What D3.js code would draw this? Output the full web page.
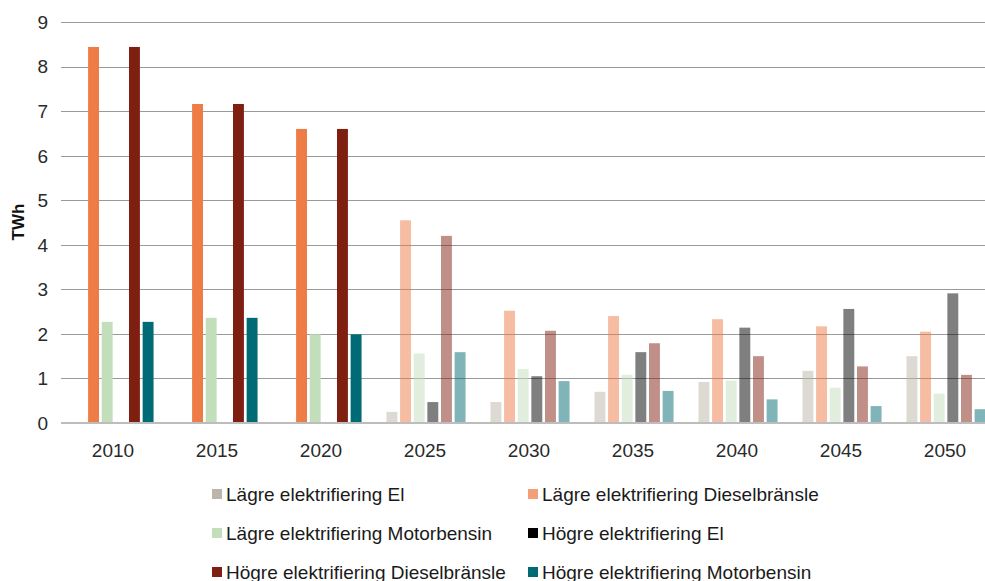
<!DOCTYPE html>
<html>
<head>
<meta charset="utf-8">
<script src="https://cdn.jsdelivr.net/npm/d3@7"></script>
<style>
  html, body { margin: 0; padding: 0; background: #fff; }
  svg { display: block; }
</style>
</head>
<body>
<svg id="chart" width="985" height="581"></svg>
<script>
const categories = ['2010', '2015', '2020', '2025', '2030', '2035', '2040', '2045', '2050'];
const seriesNames = [
  'Lägre elektrifiering El',
  'Lägre elektrifiering Dieselbränsle',
  'Lägre elektrifiering Motorbensin',
  'Högre elektrifiering El',
  'Högre elektrifiering Dieselbränsle',
  'Högre elektrifiering Motorbensin'
];
const lagreEl       = [0, 0, 0, 0.25, 0.47, 0.70, 0.92, 1.17, 1.50];
const lagreDiesel   = [8.44, 7.16, 6.60, 4.55, 2.52, 2.40, 2.33, 2.17, 2.05];
const lagreMotor    = [2.27, 2.36, 1.99, 1.56, 1.21, 1.08, 0.95, 0.79, 0.66];
const hogreEl       = [0, 0, 0, 0.47, 1.05, 1.59, 2.14, 2.56, 2.91];
const hogreDiesel   = [8.44, 7.16, 6.60, 4.20, 2.07, 1.79, 1.50, 1.27, 1.08];
const hogreMotor    = [2.27, 2.36, 1.99, 1.59, 0.94, 0.72, 0.53, 0.38, 0.31];
const yTicks = [0, 1, 2, 3, 4, 5, 6, 7, 8, 9];
const yLabel = 'TWh';

const seriesValues = [lagreEl, lagreDiesel, lagreMotor, hogreEl, hogreDiesel, hogreMotor];
const barColors = ['#BBB5A7', '#EE7C47', '#C3DEBB', '#000000', '#7F1F12', '#006B74'];
const legendColors = ['#BCB5A9', '#F39F77', '#C3DEBB', '#000000', '#7F1F12', '#006B74'];
const projectionStart = 2025;

const svg = d3.select('#chart');
const fontMain = '"Liberation Sans", Arial, Helvetica, sans-serif';

const x0 = d3.scaleBand().domain(categories).range([61, 997]).padding(0);
const x1 = d3.scaleBand().domain(d3.range(seriesNames.length))
  .range([2, 104]).paddingInner(0.2).paddingOuter(0.84);
const y = d3.scaleLinear().domain([0, 9]).range([423, 22]);

// gridlines
svg.append('g').selectAll('line')
  .data(yTicks.filter(t => t !== 0))
  .join('line')
  .attr('x1', 61).attr('x2', 985)
  .attr('y1', d => Math.round(y(d)) + 0.5).attr('y2', d => Math.round(y(d)) + 0.5)
  .attr('stroke', '#9a9a9a').attr('stroke-width', 1.2);

// y tick labels
svg.append('g').selectAll('text')
  .data(yTicks)
  .join('text')
  .attr('x', 48).attr('y', d => y(d))
  .attr('dy', '0.36em')
  .attr('text-anchor', 'end')
  .attr('font-family', fontMain).attr('font-size', 19)
  .attr('fill', '#2a2a2a')
  .text(d => d);

// bars
const groups = svg.append('g').selectAll('g')
  .data(categories)
  .join('g')
  .attr('transform', d => `translate(${x0(d)},0)`);

groups.selectAll('rect')
  .data((c, ci) => seriesValues.map((vals, si) => ({ si, v: vals[ci], year: +c })))
  .join('rect')
  .attr('x', d => x1(d.si))
  .attr('width', x1.bandwidth())
  .attr('y', d => y(d.v))
  .attr('height', d => y(0) - y(d.v))
  .attr('fill', d => barColors[d.si])
  .attr('fill-opacity', d => d.year >= projectionStart ? 0.5 : 1);

// baseline
svg.append('line')
  .attr('x1', 61).attr('x2', 985)
  .attr('y1', y(0)).attr('y2', y(0))
  .attr('stroke', '#bdbdbd').attr('stroke-width', 2.2);

// x labels
svg.append('g').selectAll('text')
  .data(categories)
  .join('text')
  .attr('x', d => x0(d) + x0.bandwidth() / 2)
  .attr('y', 457)
  .attr('text-anchor', 'middle')
  .attr('font-family', fontMain).attr('font-size', 19)
  .attr('fill', '#2a2a2a')
  .text(d => d);

// y axis title
svg.append('text')
  .attr('transform', 'translate(24,222) rotate(-90)')
  .attr('text-anchor', 'middle')
  .attr('font-family', fontMain).attr('font-size', 17)
  .attr('font-weight', 'bold')
  .attr('fill', '#111')
  .text(yLabel);

// legend
const legendCols = [212, 528];
const legendRows = [494, 533, 572];
const leg = svg.append('g').selectAll('g')
  .data(seriesNames)
  .join('g')
  .attr('transform', (d, i) => `translate(${legendCols[i % 2]},${legendRows[Math.floor(i / 2)]})`);
leg.append('rect')
  .attr('x', 0).attr('y', -5).attr('width', 10).attr('height', 10)
  .attr('fill', (d, i) => legendColors[i]);
leg.append('text')
  .attr('x', 14).attr('y', 0).attr('dy', '0.36em')
  .attr('font-family', fontMain)
  .attr('font-size', 19)
  .attr('fill', '#1a1a1a')
  .text(d => d);
</script>
</body>
</html>
